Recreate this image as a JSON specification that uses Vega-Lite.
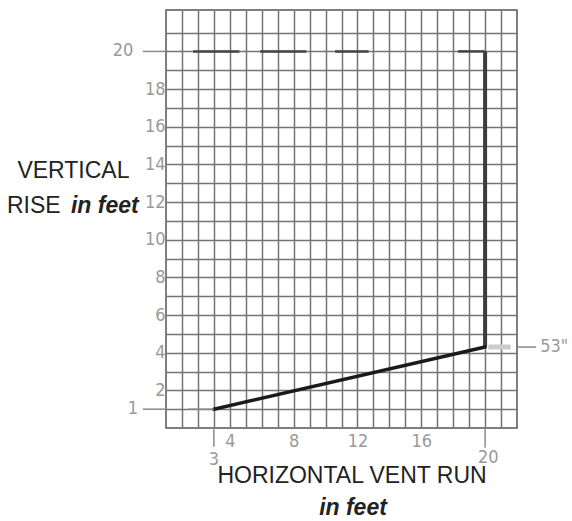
{
  "$schema": "https://vega.github.io/schema/vega-lite/v6.json",
  "width": 351,
  "height": 418,
  "autosize": {"type": "none"},
  "padding": {"left": 166, "top": 10, "right": 55, "bottom": 93},
  "background": "white",
  "config": {"view": {"stroke": "#555", "strokeWidth": 1.5}},
  "layer": [
    {
      "data": {"values": [{"x": 20, "y": 4.3, "x2": 20, "y2": 20}]},
      "mark": {"type": "rule", "color": "#3c3c3c", "strokeWidth": 4},
      "encoding": {
        "x": {"field": "x", "type": "quantitative",
          "scale": {"domain": [0, 22], "nice": false, "zero": false},
          "axis": {"values": [1,2,3,4,5,6,7,8,9,10,11,12,13,14,15,16,17,18,19,20,21], "tickCount": 40, "format": "d",
            "grid": true, "gridColor": "#747474", "gridWidth": 1.5, "ticks": false, "domain": false,
            "labelExpr": "datum.value % 4 == 0 && datum.value < 20 ? datum.label : ''",
            "labelFont": "Liberation Sans Narrow, DejaVu Sans Condensed, Roboto Condensed, sans-serif", "labelFontSize": 18, "labelColor": "#999",
            "labelOverlap": false, "labelPadding": 4, "title": null}},
        "y": {"field": "y", "type": "quantitative",
          "scale": {"domain": [0, 22.2], "nice": false, "zero": false},
          "axis": {"values": [1,2,3,4,5,6,7,8,9,10,11,12,13,14,15,16,17,18,19,20,21], "tickCount": 40, "format": "d",
            "grid": true, "gridColor": "#747474", "gridWidth": 1.5, "ticks": false, "domain": false,
            "labelExpr": "datum.value % 2 == 0 && datum.value < 20 ? datum.label : ''",
            "labelFont": "Liberation Sans Narrow, DejaVu Sans Condensed, Roboto Condensed, sans-serif", "labelFontSize": 18, "labelColor": "#999",
            "labelOverlap": false, "labelPadding": 1, "title": null}},
        "x2": {"field": "x2"},
        "y2": {"field": "y2"}
      }
    },
    {
      "data": {"values": [{"x": 3, "y": 1, "x2": 20, "y2": 4.3}]},
      "mark": {"type": "rule", "color": "#1a1a1a", "strokeWidth": 3.5, "strokeCap": "round"},
      "encoding": {
        "x": {"field": "x", "type": "quantitative"},
        "y": {"field": "y", "type": "quantitative"},
        "x2": {"field": "x2"},
        "y2": {"field": "y2"}
      }
    },
    {
      "data": {"values": [
        {"x": 1.7, "x2": 4.6, "y": 20, "y2": 20},
        {"x": 5.9, "x2": 8.8, "y": 20, "y2": 20},
        {"x": 10.6, "x2": 12.7, "y": 20, "y2": 20},
        {"x": 18.3, "x2": 20, "y": 20, "y2": 20}
      ]},
      "mark": {"type": "rule", "color": "#444", "strokeWidth": 2.5},
      "encoding": {
        "x": {"field": "x", "type": "quantitative"},
        "y": {"field": "y", "type": "quantitative"},
        "x2": {"field": "x2"},
        "y2": {"field": "y2"}
      }
    },
    {
      "data": {"values": [{"x": 20.2, "x2": 21.6, "y": 4.3, "y2": 4.3}]},
      "mark": {"type": "rule", "color": "#cccccc", "strokeWidth": 5},
      "encoding": {
        "x": {"field": "x", "type": "quantitative"},
        "y": {"field": "y", "type": "quantitative"},
        "x2": {"field": "x2"},
        "y2": {"field": "y2"}
      }
    },
    {
      "data": {"values": [
        {"x": -1.45, "x2": 0, "y": 20, "y2": 20},
        {"x": -1.45, "x2": 0, "y": 1, "y2": 1},
        {"x": 1.4, "x2": 3, "y": 1, "y2": 1},
        {"x": 3, "x2": 3, "y": 0, "y2": -1.0},
        {"x": 20, "x2": 20, "y": 0, "y2": -1.05},
        {"x": 22, "x2": 23.2, "y": 4.3, "y2": 4.3}
      ]},
      "mark": {"type": "rule", "color": "#8a8a8a", "strokeWidth": 1.5},
      "encoding": {
        "x": {"field": "x", "type": "quantitative"},
        "y": {"field": "y", "type": "quantitative"},
        "x2": {"field": "x2"},
        "y2": {"field": "y2"}
      }
    },
    {
      "data": {"values": [
        {"x": -2.05, "y": 20, "t": "20"},
        {"x": -1.75, "y": 1, "t": "1"}
      ]},
      "mark": {"type": "text", "align": "right", "baseline": "middle", "font": "Liberation Sans Narrow, DejaVu Sans Condensed, Roboto Condensed, sans-serif", "fontSize": 18, "color": "#999"},
      "encoding": {
        "x": {"field": "x", "type": "quantitative"},
        "y": {"field": "y", "type": "quantitative"},
        "text": {"field": "t"}
      }
    },
    {
      "data": {"values": [
        {"x": 3, "y": -1.7, "t": "3"},
        {"x": 20.2, "y": -1.6, "t": "20"}
      ]},
      "mark": {"type": "text", "align": "center", "baseline": "middle", "font": "Liberation Sans Narrow, DejaVu Sans Condensed, Roboto Condensed, sans-serif", "fontSize": 18, "color": "#999"},
      "encoding": {
        "x": {"field": "x", "type": "quantitative"},
        "y": {"field": "y", "type": "quantitative"},
        "text": {"field": "t"}
      }
    },
    {
      "data": {"values": [{"x": 23.45, "y": 4.3, "t": "53\""}]},
      "mark": {"type": "text", "align": "left", "baseline": "middle", "font": "Liberation Sans Narrow, DejaVu Sans Condensed, Roboto Condensed, sans-serif", "fontSize": 18, "color": "#999"},
      "encoding": {
        "x": {"field": "x", "type": "quantitative"},
        "y": {"field": "y", "type": "quantitative"},
        "text": {"field": "t"}
      }
    },
    {
      "data": {"values": [
        {"x": -5.8, "y": 13.28, "t": "VERTICAL"},
        {"x": 11.66, "y": -2.92, "t": "HORIZONTAL VENT RUN"}
      ]},
      "mark": {"type": "text", "align": "center", "baseline": "alphabetic", "font": "Liberation Sans", "fontSize": 23, "color": "#222"},
      "encoding": {
        "x": {"field": "x", "type": "quantitative"},
        "y": {"field": "y", "type": "quantitative"},
        "text": {"field": "t"}
      }
    },
    {
      "data": {"values": [{"x": -9.97, "y": 11.42, "t": "RISE"}]},
      "mark": {"type": "text", "align": "left", "baseline": "alphabetic", "font": "Liberation Sans", "fontSize": 23, "color": "#222"},
      "encoding": {
        "x": {"field": "x", "type": "quantitative"},
        "y": {"field": "y", "type": "quantitative"},
        "text": {"field": "t"}
      }
    },
    {
      "data": {"values": [{"x": -5.96, "y": 11.42, "t": "in feet"}]},
      "mark": {"type": "text", "align": "left", "baseline": "alphabetic", "font": "Liberation Sans", "fontSize": 23, "fontWeight": "bold", "fontStyle": "italic", "color": "#222"},
      "encoding": {
        "x": {"field": "x", "type": "quantitative"},
        "y": {"field": "y", "type": "quantitative"},
        "text": {"field": "t"}
      }
    },
    {
      "data": {"values": [{"x": 11.72, "y": -4.62, "t": "in feet"}]},
      "mark": {"type": "text", "align": "center", "baseline": "alphabetic", "font": "Liberation Sans", "fontSize": 23, "fontWeight": "bold", "fontStyle": "italic", "color": "#222"},
      "encoding": {
        "x": {"field": "x", "type": "quantitative"},
        "y": {"field": "y", "type": "quantitative"},
        "text": {"field": "t"}
      }
    }
  ]
}
